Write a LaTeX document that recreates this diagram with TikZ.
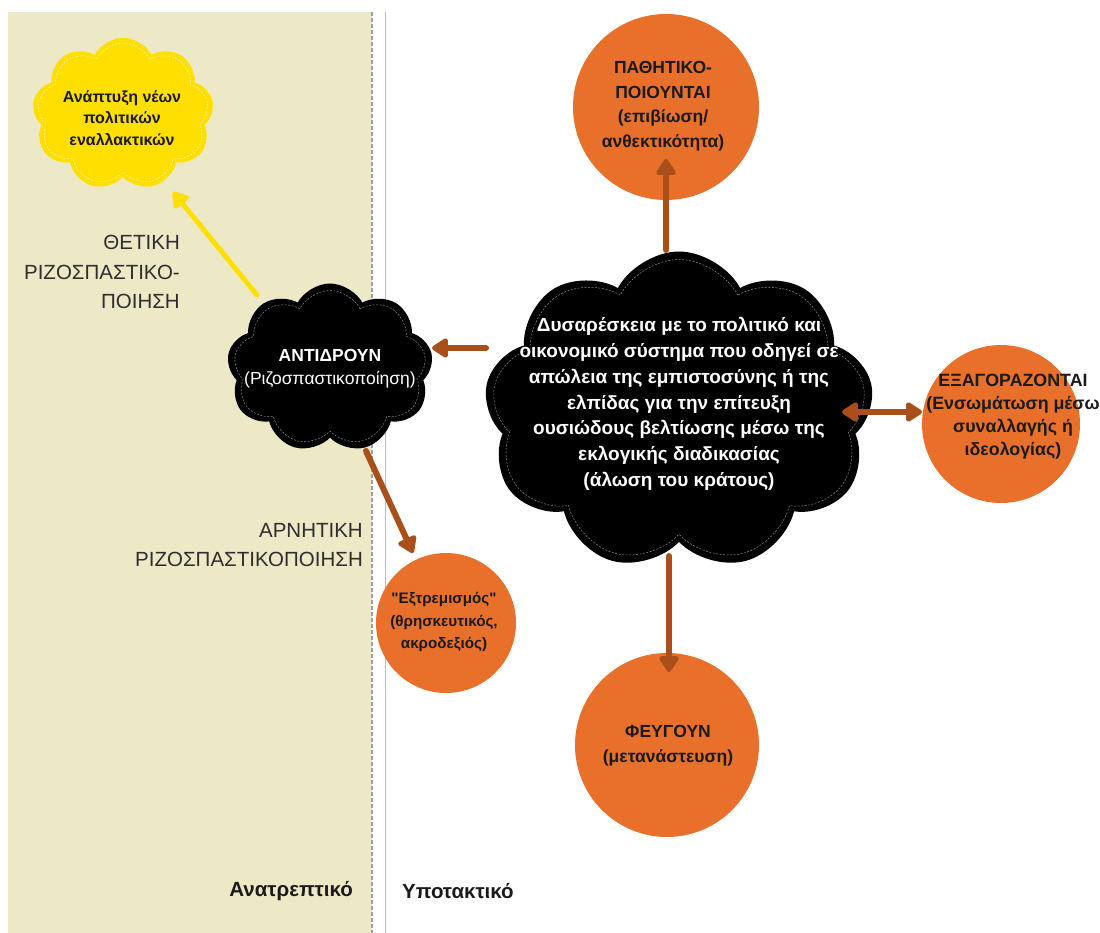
\documentclass[tikz,border=0pt]{standalone}
\usepackage{fontspec}
\setmainfont{Liberation Sans}
\newfontfamily\rawfont{Liberation Sans}[Ligatures=TeXOff]
\usetikzlibrary{shapes.symbols,arrows.meta,calc}
\definecolor{beige}{HTML}{EDE8C6}
\definecolor{orng}{HTML}{E8702A}
\definecolor{brn}{HTML}{A94F1A}
\definecolor{ylw}{HTML}{FFDF00}
\definecolor{ink}{HTML}{1A1A1A}
\definecolor{greyink}{HTML}{2E2E2E}
\begin{document}
\begin{tikzpicture}[x=1pt,y=-1pt,
  cloudbase/.style={cloud, cloud puffs=9, cloud puff arc=125, cloud ignores aspect, inner sep=0pt},
  innerline/.style={cloudbase, draw=#1, line width=0.5pt, dash pattern=on 2pt off 1.5pt},
  orb/.style={circle, fill=orng, draw=none, inner sep=0pt, minimum size=#1},
  txt/.style={align=center, text=ink, font=\bfseries\fontsize{17.5}{24.5}\selectfont},
  wtxt/.style={align=center, text=white},
  side/.style={align=right, text=greyink, inner sep=0pt, font=\fontsize{20.5}{29.5}\selectfont},
  foot/.style={text=ink, inner sep=0pt, font=\bfseries\fontsize{20.5}{24}\selectfont},
  arr/.style={draw=brn, line width=6pt, line cap=round, -{Triangle[width=22pt,length=18pt,round]}},
  darr/.style={draw=brn, line width=6pt, line cap=round, {Triangle[width=22pt,length=18pt,round]}-{Triangle[width=22pt,length=18pt,round]}},
  yarr/.style={draw=ylw, line width=5pt, line cap=round, -{Triangle[width=21pt,length=17pt,round]}}
]
\useasboundingbox (0,0) rectangle (1100,933);
% panels
\fill[beige] (8,12) rectangle (372,933);
\draw[gray!75, line width=1.3pt, dash pattern=on 4pt off 2pt] (372,12) -- (372,933);
\draw[gray!55, line width=0.7pt] (385,12) -- (385,933);

% yellow cloud
\node[cloudbase, fill=ylw, draw=ylw, minimum width=181pt, minimum height=152pt] (ylw) at (123,114) {};
\node[innerline=white!75!ylw, minimum width=171pt, minimum height=142pt] (ylwin) at (ylw) {};
\node[txt, font=\bfseries\fontsize{16}{21.5}\selectfont] (ylwt) at (122,118) {Ανάπτυξη νέων\\πολιτικών\\εναλλακτικών};

% antidroun cloud
\node[cloudbase, fill=black, draw=black, line width=2pt, minimum width=204pt, minimum height=167pt] (anti) at (330,368) {};
\node[innerline=white!55!black, minimum width=192pt, minimum height=155pt] (antiin) at (anti) {};
\node[wtxt, font=\fontsize{17.5}{23}\selectfont] (antit) at (330,369) {\textbf{ΑΝΤΙΔΡΟΥΝ}\\(Ριζοσπαστικοποίηση)};

% central cloud
\node[cloudbase, fill=black, draw=black, line width=2pt, minimum width=388pt, minimum height=317pt] (cen) at (679,411) {};
\node[innerline=white!55!black, minimum width=374pt, minimum height=303pt] (cenin) at (cen) {};
\node[wtxt, font=\bfseries\fontsize{19}{25.8}\selectfont] (cent) at (679,404) {Δυσαρέσκεια με το πολιτικό και\\οικονομικό σύστημα που οδηγεί σε\\απώλεια της εμπιστοσύνης ή της\\ελπίδας για την επίτευξη\\ουσιώδους βελτίωσης μέσω της\\εκλογικής διαδικασίας\\(άλωση του κράτους)};

% orange circles
\node[orb=186pt] (pat) at (666,107) {};
\node[txt] (patt) at (663,106) {ΠΑΘΗΤΙΚΟ-\\ΠΟΙΟΥΝΤΑΙ\\(επιβίωση/\\ανθεκτικότητα)};

\node[orb=184pt] (fey) at (667,745) {};
\node[txt, font=\bfseries\fontsize{17.5}{25}\selectfont] (feyt) at (668,746) {ΦΕΥΓΟΥΝ\\(μετανάστευση)};

\node[orb=158pt] (exa) at (1001,424) {};
\node[txt, font=\bfseries\fontsize{17.8}{23}\selectfont] (exat) at (1013,417) {ΕΞΑΓΟΡΑΖΟΝΤΑΙ\\(Ενσωμάτωση μέσω\\συναλλαγής ή\\ιδεολογίας)};

\node[orb=140pt] (ext) at (446,623) {};
\node[txt, font=\bfseries\fontsize{15.2}{22.5}\selectfont] (extt) at (444,622) {{\rawfont\bfseries "}Εξτρεμισμός{\rawfont\bfseries "}\\(θρησκευτικός,\\ακροδεξιός)};

% side labels
\node[side, anchor=east] (pos) at (180,272) {ΘΕΤΙΚΗ\\ΡΙΖΟΣΠΑΣΤΙΚΟ-\\ΠΟΙΗΣΗ};
\node[side, anchor=east] (neg) at (363,545) {ΑΡΝΗΤΙΚΗ\\ΡΙΖΟΣΠΑΣΤΙΚΟΠΟΙΗΣΗ};

% bottom labels
\node[foot, anchor=east] (sub) at (353,891) {Ανατρεπτικό};
\node[foot, anchor=west] (subm) at (402,891) {Υποτακτικό};

% connectors
\draw[arr] ($(cen)+(-13,-161)$) -- ($(pat)+(0,52)$);
\draw[arr] ($(cen)+(-10,145)$) -- ($(fey)+(2,-73)$);
\draw[darr] ($(cen)+(163,1)$) -- ($(exa)+(-79,-12)$);
\draw[arr] ($(cen)+(-193,-63)$) -- ($(anti)+(102,-20)$);
\draw[arr] ($(anti)+(36,83)$) -- ($(ext)+(-33,-70)$);
\draw[yarr] ($(anti)+(-73,-73)$) -- ($(ylw)+(50,78)$);
\end{tikzpicture}
\end{document}
